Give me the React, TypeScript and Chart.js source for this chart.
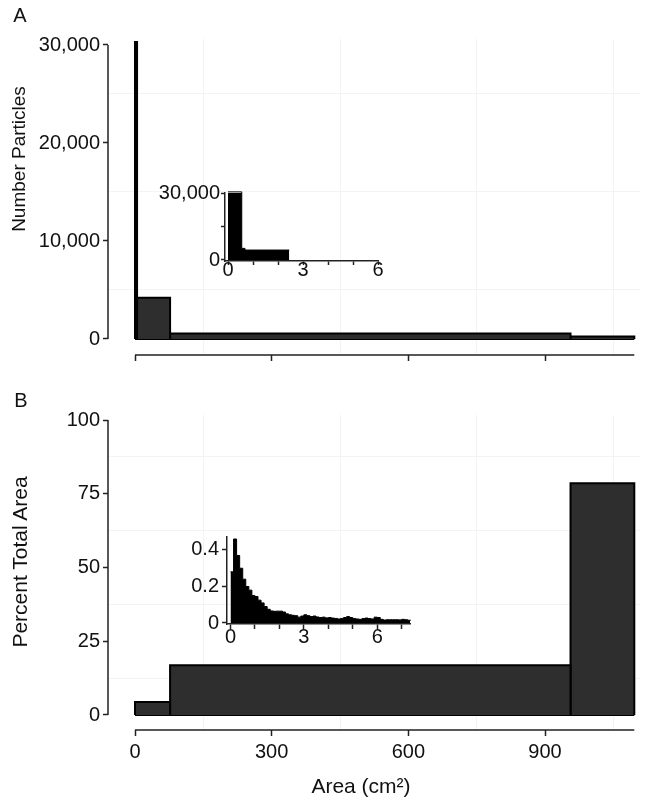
import React, { useEffect, useRef } from 'react';
import { Chart, registerables } from 'chart.js';

Chart.register(...registerables);

// ---------------- data ----------------
const areaTicks = [0, 300, 600, 900];
const areaMinorGrid = [150, 450, 750, 1050];

const countTicks = [0, 10000, 20000, 30000];
const countMinorGrid = [5000, 15000, 25000];

const percentTicks = [0, 25, 50, 75, 100];
const percentMinorGrid = [12.5, 37.5, 62.5, 87.5];

// Panel A: number of particles per area bin (cm²)
const binEdgesA = [0, 4.5, 77, 956, 1096];
const particleCounts = [30300, 4200, 550, 250];

// Panel B: percent of total area per area bin (cm²)
const binEdgesB = [0, 77, 956, 1096];
const percentArea = [4.4, 16.9, 78.6];

// Inset A: small particles (0–6 cm²)
const insetEdgesA = [0, 0.55, 0.68, 2.45];
const insetCountsA = [30500, 5200, 4450];
const insetTicksAX = [0, 1, 2, 3, 4, 5, 6];
const insetLabelsAX = [0, 3, 6];
const insetTicksAY = [0, 15000, 30000];
const insetLabelsAY = [0, 30000];

// Inset B: percent total area, 0.125 cm² bins from 0
const insetBinWidthB = 0.125;
const insetPercentB = [
  0.28, 0.46, 0.37, 0.30, 0.24, 0.20, 0.18, 0.15, 0.145, 0.125,
  0.11, 0.09, 0.075, 0.066, 0.064, 0.065, 0.065, 0.060, 0.05, 0.045,
  0.042, 0.040, 0.032, 0.038, 0.045, 0.04, 0.035, 0.038, 0.033, 0.030,
  0.032, 0.028, 0.030, 0.027, 0.025, 0.022, 0.025, 0.030, 0.035, 0.030,
  0.024, 0.022, 0.020, 0.024, 0.027, 0.024, 0.022, 0.032, 0.030, 0.020,
  0.016, 0.018, 0.018, 0.018, 0.018, 0.017, 0.020, 0.018, 0.015,
];
const insetTicksBX = [0, 1, 2, 3, 4, 5, 6, 7];
const insetLabelsBX = [0, 3, 6];
const insetTicksBY = [0, 0.2, 0.4];

// ---------------- styles ----------------
const FONT = '"Liberation Sans", Arial, Helvetica, sans-serif';
const TEXT = '#111';
const AXIS = '#222';
const GRID = '#f3f3f3';
const BAR_FILL = '#2e2e2e';
const TICK_FONT = { family: FONT, size: 20 };

Chart.defaults.font.family = FONT;

const fmt = (v: number) => v.toLocaleString('en-US');

function rectDatasets(edges: number[], values: number[]) {
  const ds: any[] = values.map((v, i) => ({
    data: [
      { x: edges[i], y: 0 },
      { x: edges[i], y: v },
      { x: edges[i + 1], y: v },
      { x: edges[i + 1], y: 0 },
    ],
    borderColor: '#000',
    borderWidth: 2,
    backgroundColor: BAR_FILL,
    fill: 'origin',
    pointRadius: 0,
    tension: 0,
    borderJoinStyle: 'miter',
  }));
  ds.push({
    data: [
      { x: edges[0], y: 0 },
      { x: edges[edges.length - 1], y: 0 },
    ],
    borderColor: '#000',
    borderWidth: 2,
    fill: false,
    pointRadius: 0,
  });
  return ds;
}

const cappedAxes = {
  id: 'cappedAxes',
  afterDatasetsDraw(chart: any, _args: any, opts: any) {
    const { ctx, chartArea, scales } = chart;
    const x = scales.x;
    const y = scales.y;
    ctx.save();
    ctx.strokeStyle = AXIS;
    ctx.lineWidth = 1.5;
    ctx.beginPath();
    ctx.moveTo(chartArea.left, y.getPixelForValue(opts.yFrom));
    ctx.lineTo(chartArea.left, y.getPixelForValue(opts.yTo));
    ctx.moveTo(x.getPixelForValue(opts.xFrom), chartArea.bottom);
    ctx.lineTo(x.getPixelForValue(opts.xTo), chartArea.bottom);
    ctx.stroke();
    ctx.restore();
  },
};

function mainConfig(p: {
  edges: number[];
  values: number[];
  yMin: number;
  yMax: number;
  yTicks: number[];
  yMinor: number[];
  yLabel: (v: number) => string;
  showXLabels: boolean;
  padding: any;
  xHeight: number;
}) {
  const xAll = [...areaTicks, ...areaMinorGrid].sort((a, b) => a - b);
  const yAll = [...p.yTicks, ...p.yMinor].sort((a, b) => a - b);
  return {
    type: 'line',
    data: { datasets: rectDatasets(p.edges, p.values) },
    plugins: [cappedAxes],
    options: {
      responsive: false,
      animation: false,
      maintainAspectRatio: false,
      layout: { padding: p.padding },
      plugins: {
        legend: { display: false },
        tooltip: { enabled: false },
        cappedAxes: {
          xFrom: p.edges[0],
          xTo: p.edges[p.edges.length - 1],
          yFrom: p.yTicks[0],
          yTo: p.yTicks[p.yTicks.length - 1],
        },
      },
      scales: {
        x: {
          type: 'linear',
          min: -59.27,
          max: 1108.5,
          afterBuildTicks: (s: any) => {
            s.ticks = xAll.map((v) => ({ value: v }));
          },
          afterFit: (s: any) => {
            s.height = p.xHeight;
          },
          border: { display: false },
          grid: {
            drawOnChartArea: true,
            drawTicks: true,
            tickLength: 6,
            lineWidth: 1,
            tickWidth: 1.5,
            color: (c: any) => (c.tick && areaMinorGrid.includes(c.tick.value) ? GRID : 'rgba(0,0,0,0)'),
            tickColor: (c: any) => (c.tick && areaTicks.includes(c.tick.value) ? AXIS : 'rgba(0,0,0,0)'),
          },
          ticks: {
            autoSkip: false,
            maxRotation: 0,
            minRotation: 0,
            padding: 4,
            color: TEXT,
            font: TICK_FONT,
            callback: (v: number) => (p.showXLabels && areaTicks.includes(v) ? String(v) : ''),
          },
        },
        y: {
          type: 'linear',
          min: p.yMin,
          max: p.yMax,
          afterBuildTicks: (s: any) => {
            s.ticks = yAll.map((v) => ({ value: v }));
          },
          afterFit: (s: any) => {
            s.width = 108;
          },
          border: { display: false },
          grid: {
            drawOnChartArea: true,
            drawTicks: true,
            tickLength: 5,
            lineWidth: 1,
            tickWidth: 1.5,
            color: (c: any) => (c.tick && p.yMinor.includes(c.tick.value) ? GRID : 'rgba(0,0,0,0)'),
            tickColor: (c: any) => (c.tick && p.yTicks.includes(c.tick.value) ? AXIS : 'rgba(0,0,0,0)'),
          },
          ticks: {
            autoSkip: false,
            padding: 3,
            color: TEXT,
            font: TICK_FONT,
            callback: (v: number) => (p.yTicks.includes(v) ? p.yLabel(v) : ''),
          },
        },
      },
    },
  };
}

function insetConfig(p: {
  edges: number[];
  values: number[];
  xMin: number;
  xMax: number;
  yMin: number;
  yMax: number;
  xTicks: number[];
  xLabels: number[];
  yTicks: number[];
  yLabels: number[];
  yFmt: (v: number) => string;
  padding: any;
  yTickLen: number;
  yPad: number;
  xTickLen: number;
  xPad: number;
}) {
  const pts = p.values.map((v, i) => ({ x: p.edges[i], y: v }));
  pts.push({ x: p.edges[p.values.length], y: p.values[p.values.length - 1] });
  return {
    type: 'line',
    data: {
      datasets: [
        {
          data: pts,
          stepped: true,
          fill: 'origin',
          backgroundColor: '#000',
          borderColor: '#000',
          borderWidth: 1,
          pointRadius: 0,
          clip: false,
        },
      ],
    },
    options: {
      responsive: false,
      animation: false,
      maintainAspectRatio: false,
      layout: { padding: p.padding },
      plugins: { legend: { display: false }, tooltip: { enabled: false } },
      scales: {
        x: {
          type: 'linear',
          min: p.xMin,
          max: p.xMax,
          afterBuildTicks: (s: any) => {
            s.ticks = p.xTicks.map((v) => ({ value: v }));
          },
          afterFit: (s: any) => {
            s.height = 30;
          },
          border: { display: true, color: AXIS, width: 1.5 },
          grid: {
            drawOnChartArea: false,
            drawTicks: true,
            tickLength: p.xTickLen,
            tickWidth: 1.5,
            tickColor: AXIS,
          },
          ticks: {
            autoSkip: false,
            maxRotation: 0,
            minRotation: 0,
            padding: p.xPad,
            color: TEXT,
            font: TICK_FONT,
            callback: (v: number) => (p.xLabels.includes(v) ? String(v) : ''),
          },
        },
        y: {
          type: 'linear',
          min: p.yMin,
          max: p.yMax,
          afterBuildTicks: (s: any) => {
            s.ticks = p.yTicks.map((v) => ({ value: v }));
          },
          afterFit: (s: any) => {
            s.width = 80;
          },
          border: { display: true, color: AXIS, width: 1.5 },
          grid: {
            drawOnChartArea: false,
            drawTicks: true,
            tickLength: p.yTickLen,
            tickWidth: 1.5,
            tickColor: AXIS,
          },
          ticks: {
            autoSkip: false,
            padding: p.yPad,
            color: TEXT,
            font: TICK_FONT,
            callback: (v: number) => (p.yLabels.includes(v) ? p.yFmt(v) : ''),
          },
        },
      },
    },
  };
}

function ChartCanvas(props: { make: () => any; left: number; top: number; width: number; height: number }) {
  const ref = useRef<HTMLCanvasElement | null>(null);
  useEffect(() => {
    if (!ref.current) return;
    const chart = new Chart(ref.current, props.make());
    return () => chart.destroy();
  }, []);
  return (
    <canvas
      ref={ref}
      width={props.width}
      height={props.height}
      style={{ position: 'absolute', left: props.left, top: props.top, width: props.width, height: props.height, display: 'block' }}
    />
  );
}

function Label(props: { x: number; y: number; size: number; rotate?: boolean; children: any }) {
  return (
    <div
      style={{
        position: 'absolute',
        left: props.x,
        top: props.y,
        transform: `translate(-50%, -50%)${props.rotate ? ' rotate(-90deg)' : ''}`,
        fontFamily: FONT,
        fontSize: props.size,
        lineHeight: 1,
        color: TEXT,
        whiteSpace: 'nowrap',
      }}
    >
      {props.children}
    </div>
  );
}

export default function App() {
  const insetEdgesB = insetPercentB.map((_, i) => i * insetBinWidthB).concat([insetPercentB.length * insetBinWidthB]);
  return (
    <div style={{ position: 'absolute', left: 0, top: 0, width: 667, height: 803, background: '#fff', overflow: 'hidden' }}>
      <ChartCanvas
        left={0}
        top={0}
        width={667}
        height={380}
        make={() =>
          mainConfig({
            edges: binEdgesA,
            values: particleCounts,
            yMin: -1632.7,
            yMax: 30612,
            yTicks: countTicks,
            yMinor: countMinorGrid,
            yLabel: fmt,
            showXLabels: false,
            padding: { left: 0, top: 39, right: 27, bottom: 5 },
            xHeight: 20,
          })
        }
      />
      <ChartCanvas
        left={0}
        top={380}
        width={667}
        height={423}
        make={() =>
          mainConfig({
            edges: binEdgesB,
            values: percentArea,
            yMin: -5.085,
            yMax: 101.695,
            yTicks: percentTicks,
            yMinor: percentMinorGrid,
            yLabel: (v) => String(v),
            showXLabels: true,
            padding: { left: 0, top: 35, right: 27, bottom: 13 },
            xHeight: 60,
          })
        }
      />
      <ChartCanvas
        left={145}
        top={165}
        width={260}
        height={130}
        make={() =>
          insetConfig({
            edges: insetEdgesA,
            values: insetCountsA,
            xMin: -0.12,
            xMax: 6,
            yMin: -448,
            yMax: 30000,
            xTicks: insetTicksAX,
            xLabels: insetLabelsAX,
            yTicks: insetTicksAY,
            yLabels: insetLabelsAY,
            yFmt: fmt,
            padding: { left: 0, top: 28, right: 27, bottom: 4 },
            yTickLen: 4,
            yPad: 1,
            xTickLen: 4,
            xPad: -7,
          })
        }
      />
      <ChartCanvas
        left={147}
        top={515}
        width={290}
        height={140}
        make={() =>
          insetConfig({
            edges: insetEdgesB,
            values: insetPercentB,
            xMin: -0.143,
            xMax: 7.342,
            yMin: -0.0055,
            yMax: 0.471,
            xTicks: insetTicksBX,
            xLabels: insetLabelsBX,
            yTicks: insetTicksBY,
            yLabels: insetTicksBY,
            yFmt: (v) => String(v),
            padding: { left: 0, top: 22, right: 27, bottom: 1 },
            yTickLen: 5,
            yPad: 3,
            xTickLen: 5,
            xPad: -4,
          })
        }
      />
      <Label x={20} y={14.5} size={20}>A</Label>
      <Label x={21} y={400} size={20}>B</Label>
      <Label x={18} y={159} size={19} rotate>Number Particles</Label>
      <Label x={18.5} y={562} size={21} rotate>Percent Total Area</Label>
      <Label x={361} y={785} size={21}>
        Area (cm²)
      </Label>
    </div>
  );
}
